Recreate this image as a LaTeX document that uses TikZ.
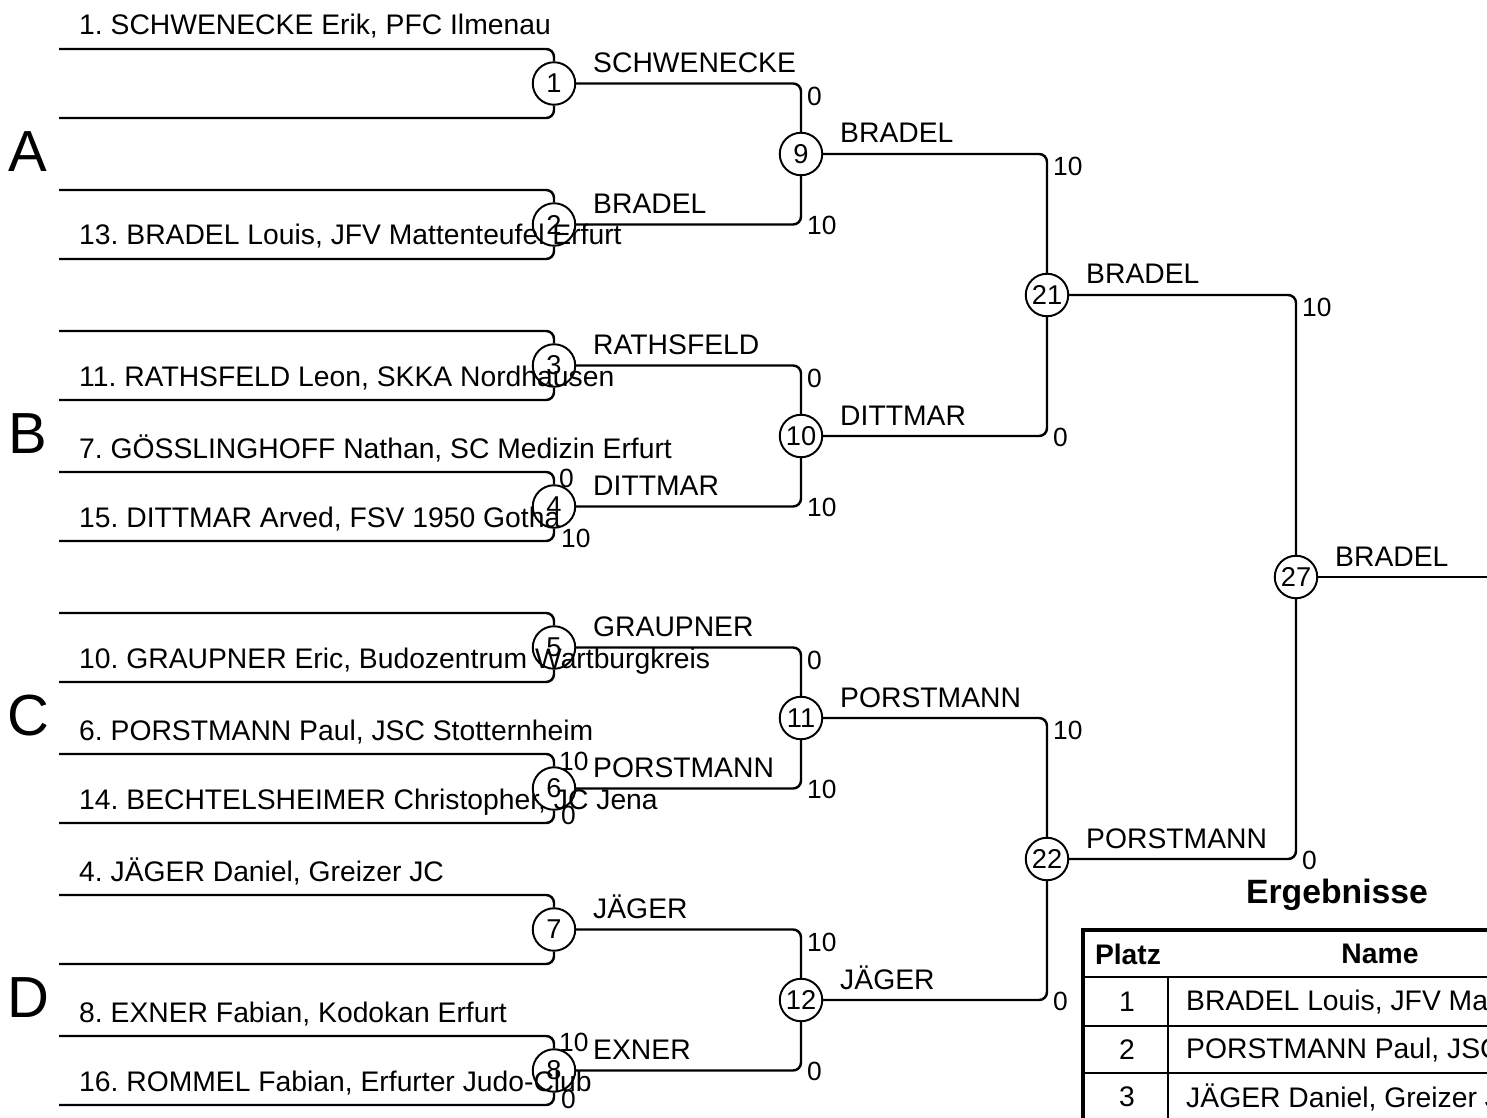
\documentclass[tikz,border=0pt]{standalone}
\usepackage{fontspec}
\setmainfont{Liberation Sans}
\usepackage{tikz}
\frenchspacing

\begin{document}
\begin{tikzpicture}
  [x=0.02cm,y=-0.02cm,line width=1.4pt,
   bout/.style={circle,draw,line width=1.1pt,minimum size=0.85cm,inner sep=0pt,font=\fontsize{15.5}{16}\selectfont},
   wire/.style={rounded corners=4.5pt},
   who/.style={anchor=base west,inner sep=0pt,font=\fontsize{16.1}{18}\selectfont},
   pts/.style={inner sep=0pt,font=\fontsize{15}{16}\selectfont},
   pool/.style={font=\fontsize{33}{36}\selectfont},
   cell/.style={font=\fontsize{16.1}{18}\selectfont}]
  \useasboundingbox (0,0) rectangle (1487,1118);
  \clip (0,0) rectangle (1487,1118);
  \node[bout] (m1) at (554,83.5) {1};
  \node[bout] (m2) at (554,224.5) {2};
  \node[bout] (m3) at (554,365.5) {3};
  \node[bout] (m4) at (554,506.5) {4};
  \node[bout] (m5) at (554,647.5) {5};
  \node[bout] (m6) at (554,788.5) {6};
  \node[bout] (m7) at (554,929.5) {7};
  \node[bout] (m8) at (554,1070.5) {8};
  \node[bout] (m9) at (801,154) {9};
  \node[bout] (m10) at (801,436) {10};
  \node[bout] (m11) at (801,718) {11};
  \node[bout] (m12) at (801,1000) {12};
  \node[bout] (m21) at (1047,295) {21};
  \node[bout] (m22) at (1047,859) {22};
  \node[bout] (m27) at (1296,577) {27};
  \coordinate (champ) at (1500,577);
  \foreach \i/\y in {1/49,2/118,3/190,4/259,5/331,6/400,7/472,8/541,
                     9/613,10/682,11/754,12/823,13/895,14/964,15/1036,16/1105}
    \coordinate (s\i) at (59,\y);
  \foreach \a/\b/\m in {s1/s2/m1,s3/s4/m2,s5/s6/m3,s7/s8/m4,
                        s9/s10/m5,s11/s12/m6,s13/s14/m7,s15/s16/m8}
  {
    \draw[wire] (\a) -| (\m.north);
    \draw[wire] (\b) -| (\m.south);
  }
  \foreach \a/\b/\m in {m1/m2/m9,m3/m4/m10,m5/m6/m11,m7/m8/m12,
                        m9/m10/m21,m11/m12/m22,m21/m22/m27}
  {
    \draw[wire] (\a.east) -| (\m.north);
    \draw[wire] (\b.east) -| (\m.south);
  }
  \draw (m27) -- (champ);
  \node[pool] (gA) at (28,152) {A};
  \node[pool] (gB) at (28,434) {B};
  \node[pool] (gC) at (28,716) {C};
  \node[pool] (gD) at (28,998) {D};
  \node[who] (t1) at (78,35) {1. SCHWENECKE Erik, PFC Ilmenau};
  \node[who] (t13) at (78,245) {13. BRADEL Louis, JFV Mattenteufel Erfurt};
  \node[who] (t11) at (78,386) {11. RATHSFELD Leon, SKKA Nordhausen};
  \node[who] (t7) at (78,458) {7. GÖSSLINGHOFF Nathan, SC Medizin Erfurt};
  \node[who] (t15) at (78,527) {15. DITTMAR Arved, FSV 1950 Gotha};
  \node[who] (t10) at (78,668) {10. GRAUPNER Eric, Budozentrum Wartburgkreis};
  \node[who] (t6) at (78,740) {6. PORSTMANN Paul, JSC Stotternheim};
  \node[who] (t14) at (78,809) {14. BECHTELSHEIMER Christopher, JC Jena};
  \node[who] (t4) at (78,881) {4. JÄGER Daniel, Greizer JC};
  \node[who] (t8) at (78,1022) {8. EXNER Fabian, Kodokan Erfurt};
  \node[who] (t16) at (78,1091) {16. ROMMEL Fabian, Erfurter Judo-Club};
  \foreach \m/\w in {m1/SCHWENECKE,m2/BRADEL,m3/RATHSFELD,m4/DITTMAR,
                     m5/GRAUPNER,m6/PORSTMANN,m7/JÄGER,m8/EXNER,
                     m9/BRADEL,m10/DITTMAR,m11/PORSTMANN,m12/JÄGER,
                     m21/BRADEL,m22/PORSTMANN,m27/BRADEL}
    \node[who] (w\m) at ([shift={(38,-11)}]\m.center) {\w};
  \foreach \x/\y/\s [count=\i] in {558/468/0,558/751/10,558/1032/10,
                                   806/85.5/0,806/367.5/0,806/649.5/0,806/931.5/10,
                                   1052/156/10,1052/720/10,1301/297/10}
    \node[pts,anchor=north west] (u\i) at (\x,\y) {\s};
  \foreach \x/\y/\s [count=\i] in {560/538/10,560/815/0,560/1099/0,
                                   806/225/10,806/507/10,806/789/10,806/1071/0,
                                   1052/437/0,1052/1001/0,1301/860/0}
    \node[pts,anchor=west] (d\i) at (\x,\y) {\s};
  \node[font=\bfseries\fontsize{19.2}{22}\selectfont] (res) at (1337,895) {Ergebnisse};
  \draw[line width=1.1pt] (1083,977) -- (1800,977);
  \draw[line width=1.1pt] (1083,1026) -- (1800,1026);
  \draw[line width=1.1pt] (1083,1073) -- (1800,1073);
  \draw[line width=1.1pt] (1168,977) -- (1168,1250);
  \draw[line width=2.4pt] (1083,930) rectangle (1800,1250);
  \node[cell,font=\bfseries\fontsize{16.1}{18}\selectfont] (hp) at (1128,954) {Platz};
  \node[cell,font=\bfseries\fontsize{16.1}{18}\selectfont] (hn) at (1380,954) {Name};
  \node[cell] (r1) at (1127,1002) {1};
  \node[cell] (r2) at (1127,1050) {2};
  \node[cell] (r3) at (1127,1097) {3};
  \node[cell,anchor=west,inner sep=0pt] (n1) at (1185,1002) {BRADEL Louis, JFV Mattenteufel Erfurt};
  \node[cell,anchor=west,inner sep=0pt] (n2) at (1185,1050) {PORSTMANN Paul, JSC Stotternheim};
  \node[cell,anchor=west,inner sep=0pt] (n3) at (1185,1097) {JÄGER Daniel, Greizer JC};
\end{tikzpicture}
\end{document}
